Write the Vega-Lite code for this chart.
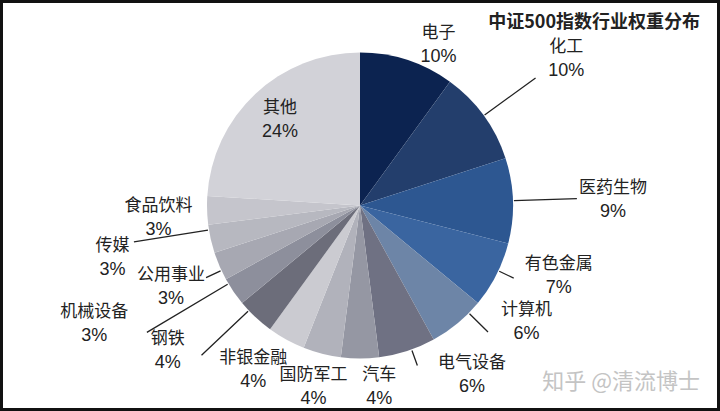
{
  "$schema": "https://vega.github.io/schema/vega-lite/v6.json",
  "width": 720,
  "height": 411,
  "autosize": {"type": "none"},
  "padding": 0,
  "background": "white",
  "view": {"stroke": "#111111", "strokeWidth": 6, "fill": "white"},
  "config": {"view": {"stroke": "#111111", "strokeWidth": 6}},
  "layer": [
    {
      "data": {
        "values": [
          {"order": 1, "name": "电子", "value": 0.10},
          {"order": 2, "name": "化工", "value": 0.10},
          {"order": 3, "name": "医药生物", "value": 0.09},
          {"order": 4, "name": "有色金属", "value": 0.07},
          {"order": 5, "name": "计算机", "value": 0.06},
          {"order": 6, "name": "电气设备", "value": 0.06},
          {"order": 7, "name": "汽车", "value": 0.04},
          {"order": 8, "name": "国防军工", "value": 0.04},
          {"order": 9, "name": "非银金融", "value": 0.04},
          {"order": 10, "name": "钢铁", "value": 0.04},
          {"order": 11, "name": "机械设备", "value": 0.03},
          {"order": 12, "name": "公用事业", "value": 0.03},
          {"order": 13, "name": "传媒", "value": 0.03},
          {"order": 14, "name": "食品饮料", "value": 0.03},
          {"order": 15, "name": "其他", "value": 0.24}
        ]
      },
      "encoding": {
        "theta": {"field": "value", "type": "quantitative", "stack": true},
        "order": {"field": "order", "type": "quantitative"}
      },
      "layer": [
        {
          "mark": {"type": "arc", "outerRadius": 153},
          "encoding": {
            "color": {
              "field": "name",
              "type": "nominal",
              "legend": null,
              "scale": {
                "domain": ["电子", "化工", "医药生物", "有色金属", "计算机", "电气设备", "汽车", "国防军工", "非银金融", "钢铁", "机械设备", "公用事业", "传媒", "食品饮料", "其他"],
                "range": ["#0c2350", "#233e6c", "#2d5791", "#3a65a0", "#6d85a7", "#6f7183", "#9597a3", "#b1b2bb", "#cbcbd1", "#6c6d7a", "#8d8f9c", "#a7a8b2", "#b7b8c0", "#c5c5cc", "#d2d2d8"]
              }
            }
          }
        },
        {
          "mark": {"type": "arc", "innerRadius": 154, "outerRadius": 217, "padAngle": 1.4, "fillOpacity": 0, "stroke": "#222222", "strokeWidth": 1.3},
          "encoding": {"detail": {"field": "name"}, "strokeOpacity": {"condition": {"test": "indexof(['化工','医药生物'], datum.name) >= 0", "value": 1}, "value": 0}}
        },
        {
          "mark": {"type": "arc", "innerRadius": 154, "outerRadius": 170, "padAngle": 1.4, "thetaOffset": -0.03, "theta2Offset": -0.03, "fillOpacity": 0, "stroke": "#222222", "strokeWidth": 1.3},
          "encoding": {"detail": {"field": "name"}, "strokeOpacity": {"condition": {"test": "indexof(['有色金属','电气设备','公用事业'], datum.name) >= 0", "value": 1}, "value": 0}}
        },
        {
          "mark": {"type": "arc", "innerRadius": 154, "outerRadius": 180, "padAngle": 1.4, "thetaOffset": -0.1, "theta2Offset": -0.1, "fillOpacity": 0, "stroke": "#222222", "strokeWidth": 1.3},
          "encoding": {"detail": {"field": "name"}, "strokeOpacity": {"condition": {"test": "datum.name == '计算机'", "value": 1}, "value": 0}}
        },
        {
          "mark": {"type": "arc", "innerRadius": 154, "outerRadius": 218, "padAngle": 1.4, "thetaOffset": 0.06, "theta2Offset": 0.06, "fillOpacity": 0, "stroke": "#222222", "strokeWidth": 1.3},
          "encoding": {"detail": {"field": "name"}, "strokeOpacity": {"condition": {"test": "datum.name == '钢铁'", "value": 1}, "value": 0}}
        },
        {
          "mark": {"type": "arc", "innerRadius": 154, "outerRadius": 248, "padAngle": 1.4, "thetaOffset": 0.06, "theta2Offset": 0.06, "fillOpacity": 0, "stroke": "#222222", "strokeWidth": 1.3},
          "encoding": {"detail": {"field": "name"}, "strokeOpacity": {"condition": {"test": "datum.name == '机械设备'", "value": 1}, "value": 0}}
        },
        {
          "mark": {"type": "arc", "innerRadius": 154, "outerRadius": 229, "padAngle": 1.4, "thetaOffset": 0.06, "theta2Offset": 0.06, "fillOpacity": 0, "stroke": "#222222", "strokeWidth": 1.3},
          "encoding": {"detail": {"field": "name"}, "strokeOpacity": {"condition": {"test": "datum.name == '传媒'", "value": 1}, "value": 0}}
        },

        {"mark": {"type": "text", "radius": 117, "dy": -12, "font": "Noto Sans CJK SC", "fontSize": 17, "color": "#222222"},
         "encoding": {"detail": {"field": "name"}, "text": {"condition": {"test": "datum.name == '其他'", "field": "name"}, "value": ""}}},
        {"mark": {"type": "text", "radius": 117, "dy": 12, "font": "Liberation Sans", "fontSize": 18, "color": "#222222"},
         "encoding": {"detail": {"field": "name"}, "text": {"condition": {"test": "datum.name == '其他'", "field": "value", "type": "quantitative", "format": ".0%"}, "value": ""}}},

        {"mark": {"type": "text", "radius": 179, "thetaOffset": 0.14, "dy": -12, "font": "Noto Sans CJK SC", "fontSize": 17, "color": "#222222"},
         "encoding": {"detail": {"field": "name"}, "text": {"condition": {"test": "datum.name == '电子'", "field": "name"}, "value": ""}}},
        {"mark": {"type": "text", "radius": 179, "thetaOffset": 0.14, "dy": 12, "font": "Liberation Sans", "fontSize": 18, "color": "#222222"},
         "encoding": {"detail": {"field": "name"}, "text": {"condition": {"test": "datum.name == '电子'", "field": "value", "type": "quantitative", "format": ".0%"}, "value": ""}}},

        {"mark": {"type": "text", "radius": 253, "thetaOffset": 0.01, "dy": -12, "font": "Noto Sans CJK SC", "fontSize": 17, "color": "#222222"},
         "encoding": {"detail": {"field": "name"}, "text": {"condition": {"test": "indexof(['化工','医药生物','传媒'], datum.name) >= 0", "field": "name"}, "value": ""}}},
        {"mark": {"type": "text", "radius": 253, "thetaOffset": 0.01, "dy": 12, "font": "Liberation Sans", "fontSize": 18, "color": "#222222"},
         "encoding": {"detail": {"field": "name"}, "text": {"condition": {"test": "indexof(['化工','医药生物','传媒'], datum.name) >= 0", "field": "value", "type": "quantitative", "format": ".0%"}, "value": ""}}},

        {"mark": {"type": "text", "radius": 211, "thetaOffset": -0.13, "dy": -12, "font": "Noto Sans CJK SC", "fontSize": 17, "color": "#222222"},
         "encoding": {"detail": {"field": "name"}, "text": {"condition": {"test": "datum.name == '有色金属'", "field": "name"}, "value": ""}}},
        {"mark": {"type": "text", "radius": 211, "thetaOffset": -0.13, "dy": 12, "font": "Liberation Sans", "fontSize": 18, "color": "#222222"},
         "encoding": {"detail": {"field": "name"}, "text": {"condition": {"test": "datum.name == '有色金属'", "field": "value", "type": "quantitative", "format": ".0%"}, "value": ""}}},

        {"mark": {"type": "text", "radius": 203, "thetaOffset": -0.27, "dy": -12, "font": "Noto Sans CJK SC", "fontSize": 17, "color": "#222222"},
         "encoding": {"detail": {"field": "name"}, "text": {"condition": {"test": "indexof(['计算机','电气设备'], datum.name) >= 0", "field": "name"}, "value": ""}}},
        {"mark": {"type": "text", "radius": 203, "thetaOffset": -0.27, "dy": 12, "font": "Liberation Sans", "fontSize": 18, "color": "#222222"},
         "encoding": {"detail": {"field": "name"}, "text": {"condition": {"test": "indexof(['计算机','电气设备'], datum.name) >= 0", "field": "value", "type": "quantitative", "format": ".0%"}, "value": ""}}},

        {"mark": {"type": "text", "radius": 183, "thetaOffset": -0.105, "dy": -12, "font": "Noto Sans CJK SC", "fontSize": 17, "color": "#222222"},
         "encoding": {"detail": {"field": "name"}, "text": {"condition": {"test": "datum.name == '汽车'", "field": "name"}, "value": ""}}},
        {"mark": {"type": "text", "radius": 183, "thetaOffset": -0.105, "dy": 12, "font": "Liberation Sans", "fontSize": 18, "color": "#222222"},
         "encoding": {"detail": {"field": "name"}, "text": {"condition": {"test": "datum.name == '汽车'", "field": "value", "type": "quantitative", "format": ".0%"}, "value": ""}}},

        {"mark": {"type": "text", "radius": 206, "dy": -12, "font": "Noto Sans CJK SC", "fontSize": 17, "color": "#222222"},
         "encoding": {"detail": {"field": "name"}, "text": {"condition": {"test": "datum.name == '公用事业'", "field": "name"}, "value": ""}}},
        {"mark": {"type": "text", "radius": 206, "dy": 12, "font": "Liberation Sans", "fontSize": 18, "color": "#222222"},
         "encoding": {"detail": {"field": "name"}, "text": {"condition": {"test": "datum.name == '公用事业'", "field": "value", "type": "quantitative", "format": ".0%"}, "value": ""}}},

        {"mark": {"type": "text", "radius": 202, "thetaOffset": -0.03, "dy": -12, "font": "Noto Sans CJK SC", "fontSize": 17, "color": "#222222"},
         "encoding": {"detail": {"field": "name"}, "text": {"condition": {"test": "datum.name == '食品饮料'", "field": "name"}, "value": ""}}},
        {"mark": {"type": "text", "radius": 202, "thetaOffset": -0.03, "dy": 12, "font": "Liberation Sans", "fontSize": 18, "color": "#222222"},
         "encoding": {"detail": {"field": "name"}, "text": {"condition": {"test": "datum.name == '食品饮料'", "field": "value", "type": "quantitative", "format": ".0%"}, "value": ""}}},

        {"mark": {"type": "text", "radius": 187, "dy": -12, "font": "Noto Sans CJK SC", "fontSize": 17, "color": "#222222"},
         "encoding": {"detail": {"field": "name"}, "text": {"condition": {"test": "datum.name == '国防军工'", "field": "name"}, "value": ""}}},
        {"mark": {"type": "text", "radius": 187, "dy": 12, "font": "Liberation Sans", "fontSize": 18, "color": "#222222"},
         "encoding": {"detail": {"field": "name"}, "text": {"condition": {"test": "datum.name == '国防军工'", "field": "value", "type": "quantitative", "format": ".0%"}, "value": ""}}},

        {"mark": {"type": "text", "radius": 196, "thetaOffset": 0.073, "dy": -12, "font": "Noto Sans CJK SC", "fontSize": 17, "color": "#222222"},
         "encoding": {"detail": {"field": "name"}, "text": {"condition": {"test": "datum.name == '非银金融'", "field": "name"}, "value": ""}}},
        {"mark": {"type": "text", "radius": 196, "thetaOffset": 0.073, "dy": 12, "font": "Liberation Sans", "fontSize": 18, "color": "#222222"},
         "encoding": {"detail": {"field": "name"}, "text": {"condition": {"test": "datum.name == '非银金融'", "field": "value", "type": "quantitative", "format": ".0%"}, "value": ""}}},

        {"mark": {"type": "text", "radius": 241, "thetaOffset": 0.17, "dy": -12, "font": "Noto Sans CJK SC", "fontSize": 17, "color": "#222222"},
         "encoding": {"detail": {"field": "name"}, "text": {"condition": {"test": "datum.name == '钢铁'", "field": "name"}, "value": ""}}},
        {"mark": {"type": "text", "radius": 241, "thetaOffset": 0.17, "dy": 12, "font": "Liberation Sans", "fontSize": 18, "color": "#222222"},
         "encoding": {"detail": {"field": "name"}, "text": {"condition": {"test": "datum.name == '钢铁'", "field": "value", "type": "quantitative", "format": ".0%"}, "value": ""}}},

        {"mark": {"type": "text", "radius": 291, "thetaOffset": 0.178, "dy": -12, "font": "Noto Sans CJK SC", "fontSize": 17, "color": "#222222"},
         "encoding": {"detail": {"field": "name"}, "text": {"condition": {"test": "datum.name == '机械设备'", "field": "name"}, "value": ""}}},
        {"mark": {"type": "text", "radius": 291, "thetaOffset": 0.178, "dy": 12, "font": "Liberation Sans", "fontSize": 18, "color": "#222222"},
         "encoding": {"detail": {"field": "name"}, "text": {"condition": {"test": "datum.name == '机械设备'", "field": "value", "type": "quantitative", "format": ".0%"}, "value": ""}}}
      ]
    },
    {
      "data": {"values": [{"t": "中证500指数行业权重分布"}]},
      "mark": {"type": "text", "align": "right", "baseline": "middle", "x": {"expr": "width - 20"}, "y": 23, "font": "Noto Sans CJK SC", "fontSize": 18, "fontWeight": "bold", "color": "#222222"},
      "encoding": {"text": {"field": "t"}}
    },
    {
      "data": {"values": [{"t": "知乎 @清流博士"}]},
      "mark": {"type": "text", "align": "right", "baseline": "middle", "x": {"expr": "width - 20"}, "y": {"expr": "height - 29"}, "font": "Noto Sans CJK SC", "fontSize": 22, "color": "#c4c4c4"},
      "encoding": {"text": {"field": "t"}}
    }
  ]
}
